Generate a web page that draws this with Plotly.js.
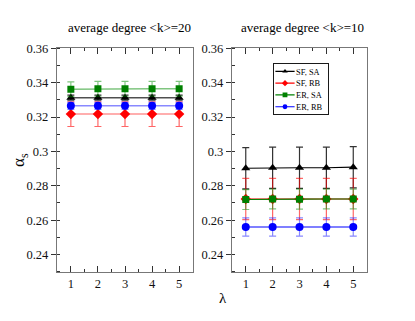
<!DOCTYPE html>
<html><head><meta charset="utf-8">
<script src="https://cdn.plot.ly/plotly-3.0.1.min.js"></script>
<style>html,body{margin:0;padding:0;background:#fff}</style>
</head><body><div id="chart" style="width:415px;height:321px"></div>
<script>
var lambda = [1, 2, 3, 4, 5];
var seriesNames = ['SF, SA', 'SF, RB', 'ER, SA', 'ER, RB'];
// <k>=20 panel
var k20_SF_SA = [0.3313, 0.3313, 0.3313, 0.3313, 0.3313];
var k20_SF_SA_err = [0.0015, 0.0015, 0.0015, 0.0015, 0.0015];
var k20_SF_RB = [0.3217, 0.3217, 0.3217, 0.3217, 0.3217];
var k20_SF_RB_err = [0.0072, 0.0072, 0.0072, 0.0072, 0.0072];
var k20_ER_SA = [0.3362, 0.3364, 0.3364, 0.3364, 0.3365];
var k20_ER_SA_err = [0.0043, 0.0043, 0.0043, 0.0043, 0.0043];
var k20_ER_RB = [0.3265, 0.3265, 0.3265, 0.3265, 0.3265];
var k20_ER_RB_err = [0.002, 0.002, 0.002, 0.002, 0.002];
// <k>=10 panel
var k10_SF_SA = [0.2902, 0.2905, 0.2905, 0.2905, 0.2908];
var k10_SF_SA_err = [0.012, 0.012, 0.012, 0.012, 0.012];
var k10_SF_RB = [0.2723, 0.2723, 0.2723, 0.2723, 0.2723];
var k10_SF_RB_err = [0.012, 0.012, 0.012, 0.012, 0.012];
var k10_ER_SA = [0.2720, 0.2723, 0.2722, 0.2723, 0.2723];
var k10_ER_SA_err = [0.0058, 0.0058, 0.0058, 0.0058, 0.0058];
var k10_ER_RB = [0.2560, 0.2560, 0.2560, 0.2560, 0.2560];
var k10_ER_RB_err = [0.0053, 0.0053, 0.0053, 0.0053, 0.0053];
var yTickVals = [0.24, 0.26, 0.28, 0.3, 0.32, 0.34, 0.36];
var yTickText = ['0.24', '0.26', '0.28', '0.3', '0.32', '0.34', '0.36'];
var titles = ['average degree &lt;k&gt;=20', 'average degree &lt;k&gt;=10'];

var serif = 'Liberation Serif, Times New Roman, serif';
var styles = [
  {sym: 'triangle-up', col: '#000000', line: 'rgba(60,60,60,0.9)', err: 'rgba(0,0,0,0.8)', size: 8},
  {sym: 'diamond', col: '#ff0000', line: 'rgba(255,60,60,0.55)', err: 'rgba(255,0,0,0.6)', size: 8},
  {sym: 'square', col: '#008000', line: 'rgba(0,140,0,0.5)', err: 'rgba(0,140,0,0.5)', size: 7},
  {sym: 'circle', col: '#0000ff', line: 'rgba(40,40,255,0.55)', err: 'rgba(40,40,255,0.55)', size: 8}
];
var leftY = [k20_SF_SA, k20_SF_RB, k20_ER_SA, k20_ER_RB];
var leftE = [k20_SF_SA_err, k20_SF_RB_err, k20_ER_SA_err, k20_ER_RB_err];
var rightY = [k10_SF_SA, k10_SF_RB, k10_ER_SA, k10_ER_RB];
var rightE = [k10_SF_SA_err, k10_SF_RB_err, k10_ER_SA_err, k10_ER_RB_err];

var traces = [];
function add(ys, es, xa, ya, rightPanel) {
  for (var i = 0; i < 4; i++) {
    var s = styles[i];
    traces.push({
      x: lambda, y: ys[i], xaxis: xa, yaxis: ya, type: 'scatter', mode: 'lines+markers',
      name: seriesNames[i], showlegend: false,
      line: {color: rightPanel ? s.col : s.line, width: rightPanel ? 1.2 : 1.5},
      marker: {symbol: s.sym, color: s.col, size: s.size},
      error_y: {type: 'data', array: es[i], visible: true, color: s.err, thickness: 1.2, width: 3.5}
    });
  }
}
add(leftY, leftE, 'x', 'y', false);
add(rightY, rightE, 'x2', 'y2', true);
// legend-only entries (a single empty point each), drawn at large size and scaled down afterwards
for (var j = 0; j < 4; j++) {
  traces.push({x: [null], y: [null], xaxis: 'x2', yaxis: 'y2', type: 'scatter', mode: 'lines+markers', name: seriesNames[j],
    showlegend: true, line: {color: styles[j].col, width: 4},
    marker: {symbol: styles[j].sym, color: styles[j].col, size: 20}});
}

var axCol = '#777';
var tfont = {family: serif, size: 12.5, color: '#111'};
function xax(dom, anchor) {
  return {domain: dom, anchor: anchor, range: [0.5, 5.5], tickvals: lambda, ticktext: lambda.map(String),
    ticks: 'inside', ticklen: 6, tickcolor: '#333', tickwidth: 1, showline: true, linecolor: axCol, linewidth: 1.5,
    mirror: 'ticks', showgrid: false, zeroline: false, tickfont: tfont,
    minor: {dtick: 0.5, tick0: 0.5, ticks: 'inside', ticklen: 3, tickcolor: '#333', showgrid: false}};
}
function yax(anchor) {
  return {domain: [0.1536, 0.8495], anchor: anchor, range: [0.23, 0.36], tickvals: yTickVals, ticktext: yTickText,
    ticks: 'outside', ticklen: 5, tickcolor: '#333', tickwidth: 1, showline: true, linecolor: axCol, linewidth: 1.5,
    mirror: true, showgrid: false, zeroline: false, tickfont: tfont,
    minor: {dtick: 0.01, tick0: 0.23, ticks: 'inside', ticklen: 3, tickcolor: '#333', showgrid: false}};
}
function yover(over, anchor) {
  return {overlaying: over, anchor: anchor, side: 'right', range: [0.23, 0.36], tickvals: yTickVals,
    ticks: 'inside', ticklen: 6, tickcolor: '#333', showticklabels: false, showline: false, showgrid: false, zeroline: false,
    minor: {dtick: 0.01, tick0: 0.23, ticks: 'inside', ticklen: 3, tickcolor: '#333', showgrid: false}};
}

var LSCALE = 0.3;
var layout = {
  width: 415, height: 321, margin: {l: 0, r: 0, t: 0, b: 0, autoexpand: false},
  paper_bgcolor: '#fff', plot_bgcolor: '#fff', showlegend: true,
  xaxis: xax([0.1381, 0.4643], 'y'),
  yaxis: yax('x'),
  xaxis2: xax([0.5598, 0.8836], 'y2'),
  yaxis2: yax('x2'),
  yaxis3: yover('y', 'x'),
  yaxis4: yover('y2', 'x2'),
  legend: {x: 0.657, y: 0.803, xanchor: 'left', yanchor: 'top', bgcolor: '#fff', bordercolor: '#000', borderwidth: 3,
    font: {family: serif, size: 28, color: '#000'}, itemwidth: 64, tracegroupgap: 0},
  annotations: [
    {text: titles[0], xref: 'paper', yref: 'paper', x: 0.311, y: 1 - 27.7 / 321, showarrow: false, xanchor: 'center', yanchor: 'middle',
     font: {family: serif, size: 13, color: '#000'}},
    {text: titles[1], xref: 'paper', yref: 'paper', x: 0.729, y: 1 - 27.7 / 321, showarrow: false, xanchor: 'center', yanchor: 'middle',
     font: {family: serif, size: 13, color: '#000'}},
    {text: 'α<sub>s</sub>', xref: 'paper', yref: 'paper', x: 20 / 415, y: 1 - 160 / 321, showarrow: false, textangle: -90,
     xanchor: 'center', yanchor: 'middle', font: {family: serif, size: 17, color: '#000'}},
    {text: 'λ', xref: 'paper', yref: 'paper', x: 223 / 415, y: 1 - 298 / 321, showarrow: false,
     xanchor: 'center', yanchor: 'middle', font: {family: serif, size: 15, color: '#000'}}
  ]
};
Plotly.newPlot('chart', traces, layout, {staticPlot: true, displayModeBar: false}).then(function (gd) {
  var lg = gd.querySelector('g.legend');
  if (lg) {
    lg.setAttribute('transform', 'translate(273,63) scale(' + LSCALE + ')');
    var bg = lg.querySelector('rect.bg');
    if (bg) bg.setAttribute('width', String((328.5 - 273) / LSCALE));
  }
});
</script></body></html>
